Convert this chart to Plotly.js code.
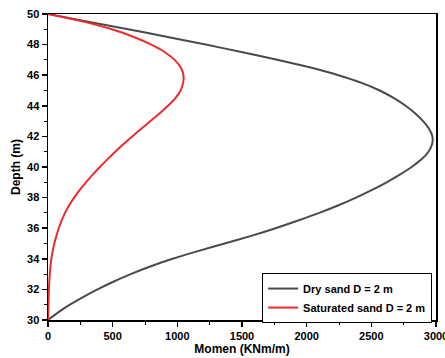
<!DOCTYPE html>
<html>
<head>
<meta charset="utf-8">
<script src="https://cdn.plot.ly/plotly-3.0.1.min.js"></script>
<style>html,body{margin:0;padding:0;background:#fff;}#chart{width:445px;height:358px;}</style>
</head>
<body>
<div id="chart"></div>
<script>
// Depth samples (m), shared by both series
const depth = [50, 49.5, 49, 48.5, 48, 47.5, 47, 46.5, 46, 45.5, 45, 44.5, 44, 43.5, 43, 42.5, 42, 41.5, 41, 40.5, 40,
               39.5, 39, 38.5, 38, 37.5, 37, 36.5, 36, 35.5, 35, 34.5, 34, 33.5, 33, 32.5, 32, 31.5, 31, 30.5, 30];
// Dry sand D = 2 m : moment (KNm/m)
const dryMoment = [0, 310, 620, 925, 1220, 1505, 1780, 2030, 2245, 2425, 2565, 2675, 2765, 2840, 2900, 2946, 2972, 2970, 2942, 2888, 2812,
                   2720, 2618, 2506, 2382, 2246, 2098, 1934, 1760, 1571, 1366, 1158, 963, 791, 639, 505, 383, 271, 169, 79, 0];
// Saturated sand D = 2 m : moment (KNm/m)
const satMoment = [0, 275, 494, 664, 799, 904, 979, 1027, 1047, 1045, 1025, 985, 928, 862, 792, 721, 651, 584, 520, 459, 401,
                   346, 294, 246, 202, 164, 132, 105, 83, 65, 49, 36, 26, 19, 14, 10, 7, 5, 3.2, 1.6, 0];
const seriesNames = ['Dry sand D = 2 m', 'Saturated sand D = 2 m'];

const fam = 'Liberation Sans, Arial, sans-serif';
const font = {family: fam, size: 11, color: '#000', weight: 700};

const traces = [
  {x: dryMoment, y: depth, mode: 'lines', name: seriesNames[0],
   line: {color: '#4a4a4a', width: 2, shape: 'spline', smoothing: 0.8}},
  {x: satMoment, y: depth, mode: 'lines', name: seriesNames[1],
   line: {color: '#ee2a2e', width: 2, shape: 'spline', smoothing: 0.8}}
];

const layout = {
  width: 445, height: 358,
  margin: {l: 48, r: 9, t: 14, b: 38},
  paper_bgcolor: '#fff', plot_bgcolor: '#fff',
  font: font,
  showlegend: true,
  legend: {x: 0.99, y: -0.01, xanchor: 'right', yanchor: 'bottom',
           bordercolor: '#000', borderwidth: 1, bgcolor: '#fff',
           font: {family: fam, size: 11, color: '#000', weight: 700}},
  xaxis: {
    range: [0, 3000], dtick: 500, tick0: 0,
    showgrid: false, zeroline: false,
    showline: true, linecolor: '#000', linewidth: 1.5, mirror: true,
    ticks: 'outside', ticklen: 5, tickwidth: 1.5, tickcolor: '#000',
    minor: {dtick: 250, ticks: 'outside', ticklen: 3, tickwidth: 1, tickcolor: '#000'},
    tickfont: {family: fam, size: 11, color: '#000', weight: 700},
    ticklabeloverflow: 'allow',
    title: {text: 'Momen (KNm/m)', font: {family: fam, size: 12, color: '#000', weight: 700}, standoff: 2},
    automargin: false
  },
  yaxis: {
    range: [30, 50], dtick: 2, tick0: 30,
    showgrid: false, zeroline: false,
    showline: true, linecolor: '#000', linewidth: 1.5, mirror: true,
    ticks: 'outside', ticklen: 5, tickwidth: 1.5, tickcolor: '#000',
    minor: {dtick: 1, ticks: 'outside', ticklen: 3, tickwidth: 1, tickcolor: '#000'},
    tickfont: {family: fam, size: 11, color: '#000', weight: 700},
    title: {text: 'Depth (m)', font: {family: fam, size: 12, color: '#000', weight: 700}, standoff: 4},
    automargin: false
  }
};

Plotly.newPlot('chart', traces, layout, {displayModeBar: false, staticPlot: true});
</script>
</body>
</html>
